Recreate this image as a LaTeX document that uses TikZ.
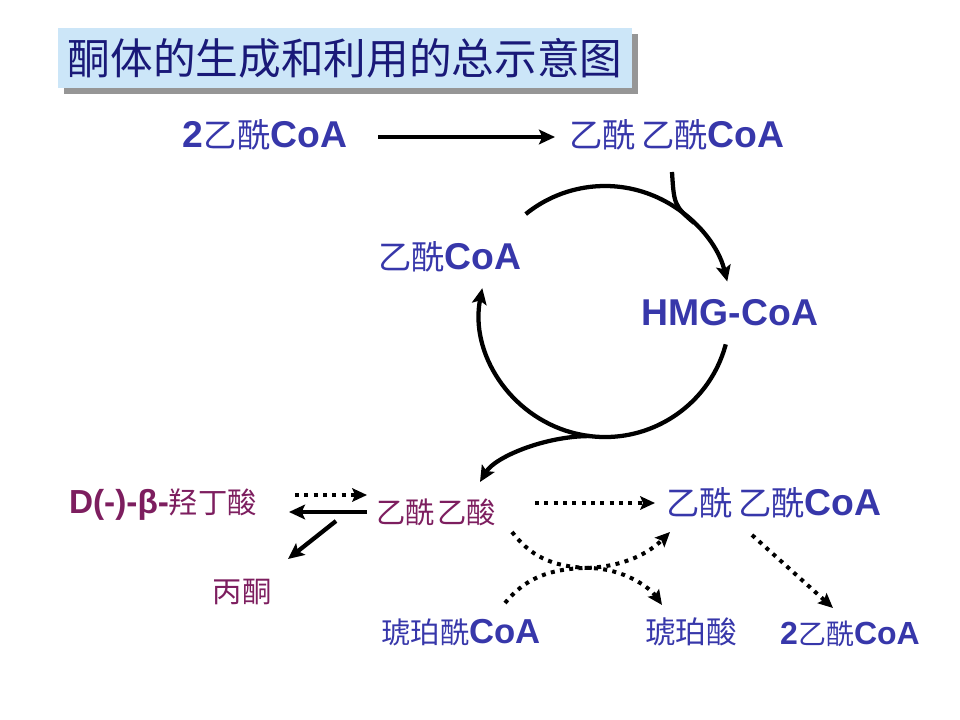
\documentclass[tikz,border=0pt]{standalone}
\usepackage{fontspec}
\setmainfont{Liberation Sans}
\newfontfamily\cjk{Noto Sans CJK SC}
\usetikzlibrary{arrows.meta,calc}
\definecolor{tblue}{RGB}{55,55,170}
\definecolor{tpurp}{RGB}{125,30,95}
\definecolor{titlebg}{RGB}{204,230,248}
\definecolor{titletx}{RGB}{25,25,120}
\definecolor{shadowgray}{RGB}{150,150,150}
\newcommand\zh[2][25]{{\cjk\mdseries\fontsize{#1}{#1}\selectfont #2}}
\begin{document}
\begin{tikzpicture}[x=0.75pt,y=0.75pt,
  lbl/.style={inner sep=0pt, font=\fontsize{28}{30}\selectfont\bfseries},
  blu/.style={lbl,text=tblue},
  pur/.style={lbl,text=tpurp,font=\fontsize{25}{27}\selectfont\bfseries},
  arr/.style={line width=3.2pt,-{Stealth[length=12pt,width=11pt,inset=2.5pt]}},
  plain/.style={line width=3.2pt},
  dotarr/.style={line width=3pt,dash pattern=on 3pt off 4pt,-{Stealth[length=11pt,width=10pt,inset=2pt]}}]
\useasboundingbox (0,0) rectangle (960,-720);
% title
\fill[shadowgray] (64,-34) rectangle (638,-94);
\fill[titlebg] (58,-28) rectangle (632,-88);
\node[inner sep=0pt,text=titletx] (title) at (345,-58) {\zh[32]{酮体的生成和利用的总示意图}};
% nodes
\node[blu] (n2acoa) at (265,-135) {2\zh{乙酰}CoA};
\node[blu] (aacoa) at (677,-135) {\zh{乙酰\hspace{4pt}乙酰}CoA};
\node[blu] (acoa) at (450,-257) {\zh{乙酰}CoA};
\node[blu] (hmg) at (730,-313) {HMG-CoA};
\node[pur] (bhb) at (163,-505) {D(-)-β-\zh[22]{羟丁酸}};
\node[pur] (aca) at (436,-512) {\zh[22]{乙酰\hspace{2pt}乙酸}};
\node[pur] (acetone) at (242,-592) {\zh[22]{丙酮}};
\node[blu] (aacoa2) at (774,-503) {\zh{乙酰\hspace{4pt}乙酰}CoA};
\node[blu,font=\fontsize{26}{28}\selectfont\bfseries] (succoa) at (461,-632) {\zh[22]{琥珀酰}CoA};
\node[blu] (succ) at (691,-632) {\zh[23]{琥珀酸}};
\node[blu,font=\fontsize{24}{26}\selectfont\bfseries] (n2acoa2) at (850,-634) {2\zh[21]{乙酰}CoA};
\coordinate (cc) at (605,-312);
% top arrow
\draw[arr] ($(n2acoa)+(113,-2)$) -- ($(aacoa)+(-122,-2)$);
% cycle
\draw[plain] ($(aacoa)+(-5,-37)$) .. controls +(2,-32) and +(-20,17) .. ($(cc)+(45:126)$);
\draw[arr] ($(cc)+(129:126)$) arc[start angle=129,end angle=14,radius=126];
\draw[arr] ($(cc)+(-15:125)$) arc[start angle=-15,end angle=-191,radius=125];
\draw[arr] ($(cc)+(-97:125)$) .. controls +(-45,0) and +(15,25) .. ($(aca)+(44,30)$);
% lower left
\draw[dotarr] ($(bhb)+(132,10)$) -- ($(aca)+(-69,17)$);
\draw[arr] ($(aca)+(-69,0)$) -- ($(bhb)+(126,-7)$);
\draw[arr] ($(aca)+(-100,-9)$) -- ($(acetone)+(46,33)$);
% lower right
\draw[dotarr] ($(aca)+(99,9)$) -- ($(aacoa2)+(-119,0)$);
\draw[dotarr] ($(aca)+(76,-20)$) .. controls +(18,-23) and +(-40,1) .. (590,-568) .. controls +(35,-1) and +(-12,17) .. ($(succ)+(-29,27)$);
\draw[dotarr] ($(succoa)+(44,29)$) .. controls +(15,18) and +(-45,-1) .. (585,-568) .. controls +(40,1) and +(-20,-20) .. ($(aacoa2)+(-104,-29)$);
\draw[dotarr] ($(aacoa2)+(-22,-32)$) -- ($(n2acoa2)+(-17,26)$);
\end{tikzpicture}
\end{document}
